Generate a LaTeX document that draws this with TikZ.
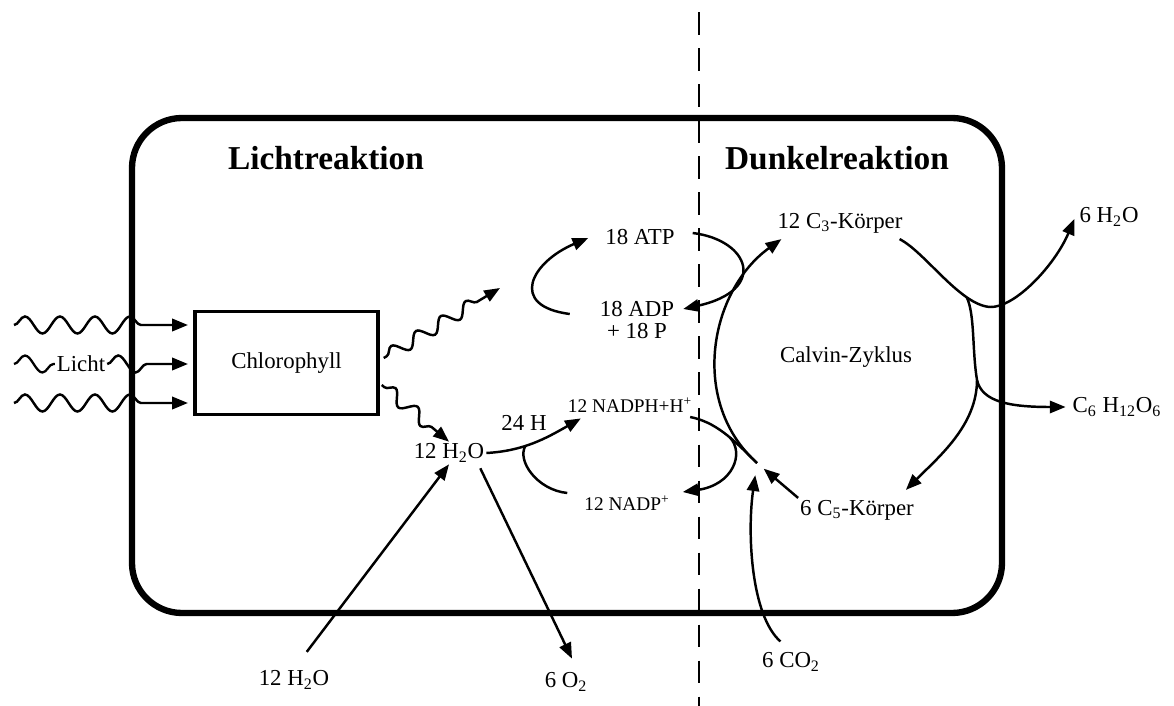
\documentclass[tikz,border=0pt]{standalone}
\usepackage{fontspec}
\setmainfont{Liberation Serif}
\usetikzlibrary{positioning,arrows.meta,decorations.pathmorphing,calc}
\tikzset{
  lbl/.style={font=\fontsize{13}{12.5}\selectfont,inner sep=1pt,align=center},
  smalllbl/.style={font=\fontsize{11}{12}\selectfont,inner sep=1pt},
  headline/.style={font=\fontsize{19}{22}\selectfont\bfseries,inner sep=1pt},
  pigment/.style={rectangle,draw,line width=2pt,minimum width=3.66cm,minimum height=2.06cm,font=\fontsize{13}{15}\selectfont},
  edge/.style={-{Triangle[length=9pt,width=7pt]},line width=1.4pt},
  plain/.style={line width=1.4pt},
  photon/.style={decorate,decoration={snake,segment length=0.7cm,amplitude=0.17cm,post length=#1},line width=1.3pt},
  photon/.default=0.9cm,
  smallphoton/.style={decorate,decoration={snake,segment length=0.58cm,amplitude=0.13cm,pre length=2pt,post length=0.36cm},line width=1.3pt}
}

\begin{document}
\begin{tikzpicture}[x=0.02cm,y=-0.02cm]
  \useasboundingbox (0,0) rectangle (1174,706);
  % cell and border between the two parts
  \draw[line width=3.6pt,rounded corners=1cm] (132,118) rectangle (1002,613);
  \draw[line width=1.4pt,dash pattern=on 13pt off 7.5pt,dash phase=-7pt] (699,0) -- (699,706);

  \node[headline] (lichtH) at (326,158) {Lichtreaktion};
  \node[headline] (dunkelH) at (837,158) {Dunkelreaktion};

  % light part
  \node[pigment] (chl) at (286.5,363) {Chlorophyll};
  \node[lbl] (licht) at (81,364) {Licht};
  \coordinate (l1) at (14,325);
  \coordinate (l2) at (14,364);
  \coordinate (l3) at (14,403);
  \draw[photon,edge,shorten >=3pt] (l1) -- (l1 -| chl.west);
  \draw[photon=0pt] (l2) -- (licht.west);
  \draw[photon,edge,shorten >=3pt] (licht.east) -- (licht.east -| chl.west);
  \draw[photon,edge,shorten >=3pt] (l3) -- (l3 -| chl.west);

  \node[lbl] (atp) at (640,237) {18 ATP};
  \node[lbl] (adp) at (637,320) {18 ADP\\+ 18 P};
  \node[smalllbl] (nadph) at (630,405) {12 NADPH+H\textsuperscript{+}};
  \node[smalllbl] (nadp) at (627,503) {12 NADP\textsuperscript{+}};
  \node[lbl] (h2o) at (449,453) {12 H\textsubscript{2}O};
  \node[lbl] (h24) at (524,423) {24 H};
  \node[lbl] (h2oin) at (294,680) {12 H\textsubscript{2}O};
  \node[lbl] (o2) at (566,682) {6 O\textsubscript{2}};

  \coordinate (atpin) at (500,288);
  \draw[smallphoton,edge] ($(chl.east)+(4,-5)$) -- (atpin);
  \draw[smallphoton,edge] ($(chl.east)+(2,22)$) -- (h2o.north);

  \draw[edge] ($(adp.west)+(-28,-6)$) .. controls +(-62,-8) and +(-57,24) .. ($(atp.west)+(-15,1)$);
  \draw[edge] ($(atp.east)+(16,-4)$) .. controls +(57,7) and +(85,-19) .. ($(adp.east)+(7,-11)$);

  \draw[edge] (h2o.east) .. controls +(37,-2) and +(-35,20) .. coordinate[pos=0.4] (hjoin) ($(nadph.south west)+(15,4)$);
  \draw[plain] (hjoin) .. controls +(-9,15) and +(-30,-3) .. ($(nadp.west)+(-15,-10)$);

  \draw[edge,shorten <=12pt] (h2oin.north) -- (h2o.south);
  \draw[edge] ($(h2o.south east)+(-6,4)$) -- ($(o2.north)+(6,-12)$);

  % dark part
  \node[lbl] (c3) at (840,223) {12 C\textsubscript{3}-Körper};
  \node[lbl] (h2oout) at (1109,217) {6 H\textsubscript{2}O};
  \node[lbl] (calvin) at (846,357) {Calvin-Zyklus};
  \node[lbl] (glc) at (1117,407) {C\textsubscript{6} H\textsubscript{12}O\textsubscript{6}};
  \node[lbl] (c5) at (857,510) {6 C\textsubscript{5}-Körper};
  \node[lbl] (co2) at (791,662) {6 CO\textsubscript{2}};
  \coordinate (fix) at (757,463);

  \draw[plain] ($(nadph.east)+(-4,12)$) .. controls +(25,5) and +(-25,-25) .. coordinate[pos=0.6] (njoin) (fix);
  \draw[edge] (njoin) .. controls +(15,16) and +(50,-7) .. ($(nadp.east)+(11,-11)$);

  \draw[edge] (fix) .. controls +(-68,-61) and +(-72,52) .. ($(c3.south west)+(6,4)$);
  \draw[edge] ($(c3.south east)+(-5,4)$) .. controls (925,252) and (960,305) .. coordinate[pos=0.75] (cjoin)
    (990,307) .. controls (1015,308) and (1055,265) .. ($(h2oout.west)+(-3,2)$);
  \draw[edge] (cjoin) .. controls (975,315) and (972,350) .. (977,380) coordinate (cbend)
    .. controls (982,402) and (1010,407) .. ($(glc.west)+(-5,0)$);
  \draw[edge] (cbend) .. controls +(0,45) and +(33,-33) .. ($(c5.north east)+(-10,-8)$);

  \draw[edge,shorten >=5pt] (c5.north west) -- (fix);
  \draw[edge,shorten <=8pt,shorten >=7pt] (co2.north) .. controls +(-40,-35) and +(-10,70) .. (fix);
\end{tikzpicture}
\end{document}
